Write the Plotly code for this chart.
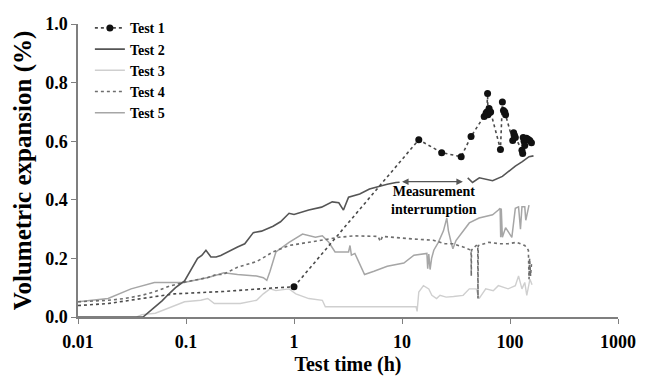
import numpy as np
import plotly.graph_objects as go

# ---------------- data ----------------
# Test 1: continuous early record (no markers) and measured points (markers)
test1_early_x = [0.01, 0.019, 0.039, 0.078, 0.22, 0.45, 0.7, 1.0]
test1_early_y = [0.039, 0.046, 0.063, 0.079, 0.087, 0.096, 0.100, 0.103]
test1_x = [1.0, 14.3, 23.3, 35.3, 43.6, 57.7, 60, 61, 62, 62.5, 64, 66.2, 81.6,
           85, 87, 89.5, 91, 106, 108, 110, 112, 129, 131, 132.5, 135, 137,
           142, 147, 152.6, 158]
test1_y = [0.103, 0.605, 0.561, 0.547, 0.616, 0.684, 0.695, 0.700, 0.763, 0.690,
           0.712, 0.700, 0.572, 0.734, 0.705, 0.700, 0.690, 0.602, 0.629, 0.620,
           0.613, 0.569, 0.558, 0.613, 0.600, 0.585, 0.610, 0.607, 0.602, 0.595]

# Test 2: before and after the measurement interruption
test2_x_a = [0.01, 0.035, 0.04, 0.05, 0.06, 0.07, 0.08, 0.097, 0.11, 0.128, 0.14,
             0.153, 0.17, 0.19, 0.21, 0.25, 0.3, 0.35, 0.39, 0.42, 0.5, 0.64,
             0.75, 0.9, 1.0, 1.37, 1.8, 2.26, 2.6, 2.87, 3.2, 4.06, 5.0, 6.4,
             7.3, 8.8, 9.5]
test2_y_a = [0.0, 0.0, 0.0, 0.03, 0.055, 0.08, 0.10, 0.123, 0.16, 0.20, 0.21,
             0.228, 0.205, 0.205, 0.21, 0.225, 0.239, 0.25, 0.272, 0.288, 0.293,
             0.31, 0.325, 0.354, 0.35, 0.365, 0.375, 0.393, 0.39, 0.365, 0.409,
             0.42, 0.437, 0.448, 0.453, 0.459, 0.46]
test2_x_b = [40.6, 45, 52, 60, 69, 85, 100, 112, 130, 150, 165]
test2_y_b = [0.475, 0.459, 0.475, 0.47, 0.465, 0.48, 0.50, 0.515, 0.53, 0.547, 0.55]

test3_x = [0.035, 0.039, 0.052, 0.073, 0.097, 0.137, 0.159, 0.183, 0.318, 0.45,
           0.52, 0.6, 0.68, 0.9, 1.04, 1.37, 1.83, 1.95, 13.5, 13.8, 14.3, 15.8,
           17.7, 18.9, 20.9, 22.5, 25.6, 30, 36.8, 42, 48.6, 51.7, 59.6, 70, 78,
           96, 112, 120, 129, 137, 143, 153, 160]
test3_y = [0.0, 0.008, 0.013, 0.035, 0.052, 0.057, 0.063, 0.046, 0.046, 0.057,
           0.079, 0.096, 0.090, 0.096, 0.079, 0.063, 0.057, 0.035, 0.035, 0.019,
           0.085, 0.107, 0.096, 0.074, 0.063, 0.074, 0.068, 0.070, 0.074, 0.096,
           0.096, 0.063, 0.096, 0.090, 0.107, 0.096, 0.107, 0.140, 0.096, 0.118,
           0.074, 0.129, 0.110]

test4_x = [0.01, 0.019, 0.027, 0.039, 0.05, 0.07, 0.1, 0.156, 0.19, 0.22, 0.3,
           0.45, 0.64, 0.9, 1.37, 2.6, 3.65, 5.5, 6.0, 6.3, 6.6, 12.9, 19.5, 25,
           29.6, 36.8, 43.6, 43.8, 44, 48.6, 50.3, 50.5, 50.8, 63.7, 80, 96, 115,
           137, 148, 150, 152, 155, 158, 160]
test4_y = [0.052, 0.057, 0.063, 0.074, 0.085, 0.105, 0.12, 0.134, 0.145, 0.145,
           0.17, 0.189, 0.222, 0.244, 0.255, 0.272, 0.277, 0.277, 0.275, 0.258,
           0.275, 0.266, 0.262, 0.25, 0.25, 0.239, 0.228, 0.14, 0.228, 0.244,
           0.244, 0.063, 0.244, 0.255, 0.25, 0.25, 0.255, 0.244, 0.228, 0.129,
           0.20, 0.14, 0.18, 0.173]

test5_x = [0.01, 0.019, 0.031, 0.045, 0.051, 0.096, 0.12, 0.16, 0.2, 0.224, 0.3,
           0.45, 0.52, 0.56, 0.6, 0.68, 0.9, 1.2, 1.58, 1.83, 2.1, 2.4, 3.2, 3.3,
           3.4, 3.66, 3.9, 4.5, 5.5, 7.3, 10.4, 12.9, 17, 17.3, 17.7, 18.2, 18.8,
           19.7, 21.7, 24.2, 26, 26.9, 28.7, 29.6, 31.6, 36.8, 42, 51.7, 69, 78,
           81, 82, 83, 85, 91, 104, 112, 120, 125, 129, 137, 140, 150]
test5_y = [0.052, 0.063, 0.096, 0.112, 0.118, 0.118, 0.125, 0.135, 0.145, 0.151,
           0.145, 0.14, 0.134, 0.125, 0.156, 0.222, 0.255, 0.283, 0.272, 0.277,
           0.255, 0.222, 0.222, 0.244, 0.211, 0.217, 0.195, 0.145, 0.156, 0.173,
           0.184, 0.211, 0.217, 0.165, 0.215, 0.162, 0.20, 0.228, 0.255, 0.294,
           0.338, 0.294, 0.25, 0.233, 0.261, 0.294, 0.321, 0.338, 0.349, 0.365,
           0.371, 0.272, 0.37, 0.272, 0.305, 0.272, 0.371, 0.376, 0.30, 0.376,
           0.376, 0.33, 0.382]

interruption_x = [9.7, 36.6]
interruption_y = 0.462

x_tick_vals = [0.01, 0.1, 1, 10, 100, 1000]
x_tick_text = ["0.01", "0.1", "1", "10", "100", "1000"]
y_tick_vals = [0.0, 0.2, 0.4, 0.6, 0.8, 1.0]

# ---------------- figure ----------------
FONT = "Liberation Serif"
AX = "#7f7f7f"

fig = go.Figure()

fig.add_trace(go.Scatter(x=test3_x, y=test3_y, mode="lines", name="Test 3",
                         legendrank=3,
                         line=dict(color="#cfcfcf", width=1.4)))
fig.add_trace(go.Scatter(x=test5_x, y=test5_y, mode="lines", name="Test 5",
                         legendrank=5,
                         line=dict(color="#a6a6a6", width=1.5)))
fig.add_trace(go.Scatter(x=test4_x, y=test4_y, mode="lines", name="Test 4",
                         legendrank=4,
                         line=dict(color="#6e6e6e", width=1.6, dash="dot")))
fig.add_trace(go.Scatter(x=test2_x_a + [None] + test2_x_b,
                         y=test2_y_a + [None] + test2_y_b,
                         mode="lines", name="Test 2", legendrank=2,
                         connectgaps=False,
                         line=dict(color="#555555", width=1.6)))
fig.add_trace(go.Scatter(x=test1_early_x, y=test1_early_y, mode="lines",
                         name="Test 1", showlegend=False, legendgroup="t1",
                         line=dict(color="#4a4a4a", width=1.6, dash="dot")))
fig.add_trace(go.Scatter(x=test1_x, y=test1_y, mode="lines+markers",
                         name="Test 1", legendrank=1, legendgroup="t1",
                         line=dict(color="#4a4a4a", width=1.6, dash="dot"),
                         marker=dict(color="#111111", size=7, symbol="circle")))

# measurement interruption arrow
lx = np.log10(interruption_x)
fig.add_annotation(x=lx[1], y=interruption_y, ax=lx[0], ay=interruption_y,
                   xref="x", yref="y", axref="x", ayref="y", text="",
                   showarrow=True, arrowhead=2, arrowside="end+start",
                   arrowsize=1, arrowwidth=1.3, arrowcolor="#555555")
mid = np.log10(np.sqrt(interruption_x[0] * interruption_x[1])) + 0.02
fig.add_annotation(x=mid, y=0.398, xref="x", yref="y",
                   text="Measurement<br>interrumption",
                   showarrow=False, align="center",
                   font=dict(family=FONT, size=14, color="black", weight="bold"))

fig.update_layout(
    width=648, height=384,
    margin=dict(l=78, r=20, t=21, b=60),
    paper_bgcolor="white", plot_bgcolor="white",
    font=dict(family=FONT, size=18, color="black", weight="bold"),
    legend=dict(x=0.022, y=1.04, xanchor="left", yanchor="top",
                bgcolor="rgba(0,0,0,0)", borderwidth=0, tracegroupgap=0,
                font=dict(family=FONT, size=14, color="black", weight="bold")),
    xaxis=dict(type="log", range=[-2, 3], tickvals=x_tick_vals,
               ticktext=x_tick_text, ticks="outside", ticklen=5,
               tickcolor=AX, tickwidth=1.3, showline=True, linecolor=AX,
               linewidth=1.5, showgrid=False, zeroline=False,
               ticklabelstandoff=3,
               title=dict(text="Test time (h)", standoff=6,
                          font=dict(family=FONT, size=20, weight="bold"))),
    yaxis=dict(range=[0, 1], tickvals=y_tick_vals, tickformat=".1f",
               ticks="outside", ticklen=5, tickcolor=AX, tickwidth=1.3,
               showline=True, linecolor=AX, linewidth=1.5, showgrid=False,
               zeroline=False,
               title=dict(text="Volumetric expansion (%)", standoff=6,
                          font=dict(family=FONT, size=25, weight="bold"))),
)

fig.write_html("out.html")
